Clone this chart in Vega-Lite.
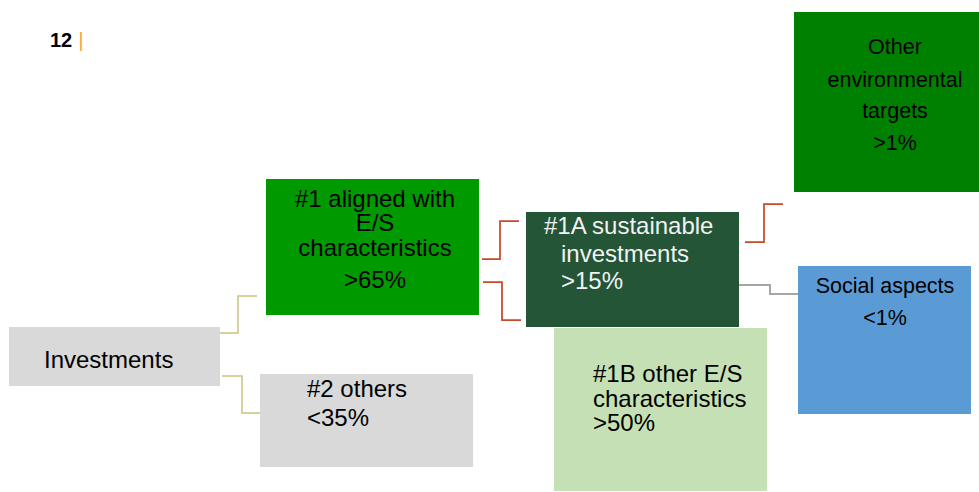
{
  "$schema": "https://vega.github.io/schema/vega-lite/v6.json",
  "width": 979,
  "height": 492,
  "autosize": {"type": "fit", "contains": "padding"},
  "padding": 0,
  "background": "white",
  "config": {"view": {"stroke": null}},
  "datasets": {
    "boxes": [
      {"box": "Investments", "x0": 9, "x1": 220, "y0": 327, "y1": 386},
      {"box": "#1", "x0": 266, "x1": 479, "y0": 179, "y1": 315},
      {"box": "#2", "x0": 260, "x1": 473, "y0": 374, "y1": 467},
      {"box": "#1B", "x0": 554, "x1": 767, "y0": 328, "y1": 491},
      {"box": "#1A", "x0": 526, "x1": 739, "y0": 212, "y1": 327},
      {"box": "Other", "x0": 794, "x1": 979, "y0": 12, "y1": 192},
      {"box": "Social", "x0": 798, "x1": 971, "y0": 266, "y1": 414}
    ],
    "links": [
      {"id": "c1", "kind": "olive", "i": 0, "x": 220, "y": 333},
      {"id": "c1", "kind": "olive", "i": 1, "x": 238, "y": 333},
      {"id": "c1", "kind": "olive", "i": 2, "x": 238, "y": 296},
      {"id": "c1", "kind": "olive", "i": 3, "x": 257, "y": 296},
      {"id": "c2", "kind": "olive", "i": 0, "x": 222, "y": 376},
      {"id": "c2", "kind": "olive", "i": 1, "x": 242, "y": 376},
      {"id": "c2", "kind": "olive", "i": 2, "x": 242, "y": 413},
      {"id": "c2", "kind": "olive", "i": 3, "x": 260, "y": 413},
      {"id": "c3", "kind": "red", "i": 0, "x": 482, "y": 259},
      {"id": "c3", "kind": "red", "i": 1, "x": 500, "y": 259},
      {"id": "c3", "kind": "red", "i": 2, "x": 500, "y": 221},
      {"id": "c3", "kind": "red", "i": 3, "x": 519, "y": 221},
      {"id": "c4", "kind": "red", "i": 0, "x": 483, "y": 282},
      {"id": "c4", "kind": "red", "i": 1, "x": 502, "y": 282},
      {"id": "c4", "kind": "red", "i": 2, "x": 502, "y": 320},
      {"id": "c4", "kind": "red", "i": 3, "x": 521, "y": 320},
      {"id": "c5", "kind": "red", "i": 0, "x": 745, "y": 242},
      {"id": "c5", "kind": "red", "i": 1, "x": 764, "y": 242},
      {"id": "c5", "kind": "red", "i": 2, "x": 764, "y": 204},
      {"id": "c5", "kind": "red", "i": 3, "x": 783, "y": 204},
      {"id": "c6", "kind": "gray", "i": 0, "x": 739, "y": 285},
      {"id": "c6", "kind": "gray", "i": 1, "x": 770, "y": 285},
      {"id": "c6", "kind": "gray", "i": 2, "x": 770, "y": 294},
      {"id": "c6", "kind": "gray", "i": 3, "x": 798, "y": 294}
    ],
    "labels": [
      {"box": "Investments", "t": "Investments", "x": 44, "y": 368},
      {"box": "#2", "t": "#2 others", "x": 307, "y": 397},
      {"box": "#2", "t": "<35%", "x": 307, "y": 426},
      {"box": "#1A", "t": "#1A sustainable", "x": 544, "y": 234},
      {"box": "#1A", "t": "investments", "x": 561, "y": 262},
      {"box": "#1A", "t": ">15%", "x": 561, "y": 289},
      {"box": "#1B", "t": "#1B other E/S", "x": 593, "y": 382},
      {"box": "#1B", "t": "characteristics", "x": 593, "y": 407},
      {"box": "#1B", "t": ">50%", "x": 593, "y": 431},
      {"box": "#1", "t": "#1 aligned with", "x": 375, "y": 207},
      {"box": "#1", "t": "E/S", "x": 375, "y": 231},
      {"box": "#1", "t": "characteristics", "x": 375, "y": 256},
      {"box": "#1", "t": ">65%", "x": 375, "y": 288},
      {"box": "Other", "t": "Other", "x": 895, "y": 54},
      {"box": "Other", "t": "environmental", "x": 895, "y": 87},
      {"box": "Other", "t": "targets", "x": 895, "y": 118},
      {"box": "Other", "t": ">1%", "x": 895, "y": 150},
      {"box": "Social", "t": "Social aspects", "x": 885, "y": 293},
      {"box": "Social", "t": "<1%", "x": 885, "y": 325}
    ],
    "header": [
      {"t": "12", "x": 50, "y": 47},
      {"t": "|", "x": 81, "y": 47}
    ]
  },
  "encoding": {
    "x": {"field": "x", "type": "quantitative", "scale": {"domain": [0, 979], "nice": false, "zero": false}, "axis": null},
    "y": {"field": "y", "type": "quantitative", "scale": {"domain": [0, 492], "nice": false, "zero": false, "reverse": true}, "axis": null}
  },
  "layer": [
    {
      "data": {"name": "boxes"},
      "mark": {"type": "rect"},
      "encoding": {
        "x": {"field": "x0", "type": "quantitative", "scale": {"domain": [0, 979], "nice": false, "zero": false}, "axis": null},
        "x2": {"field": "x1"},
        "y": {"field": "y0", "type": "quantitative", "scale": {"domain": [0, 492], "nice": false, "zero": false, "reverse": true}, "axis": null},
        "y2": {"field": "y1"},
        "fill": {"field": "box", "type": "nominal", "legend": null,
          "scale": {"domain": ["Investments", "#1", "#2", "#1A", "#1B", "Other", "Social"],
                    "range": ["#d9d9d9", "#009900", "#d9d9d9", "#245537", "#c5e0b4", "#008000", "#5b9bd5"]}}
      }
    },
    {
      "data": {"name": "links"},
      "mark": {"type": "line", "interpolate": "linear"},
      "encoding": {
        "detail": {"field": "id", "type": "nominal"},
        "order": {"field": "i", "type": "quantitative"},
        "stroke": {"field": "kind", "type": "nominal", "legend": null,
          "scale": {"domain": ["olive", "red", "gray"], "range": ["#c9c27e", "#c8482b", "#a6a6a6"]}},
        "strokeWidth": {"field": "kind", "type": "nominal", "legend": null,
          "scale": {"domain": ["olive", "red", "gray"], "range": [1.5, 2, 1.5]}}
      }
    },
    {
      "data": {"name": "labels"},
      "transform": [{"filter": {"field": "box", "oneOf": ["Investments", "#2", "#1A", "#1B"]}}],
      "mark": {"type": "text", "align": "left", "baseline": "alphabetic", "font": "Liberation Sans", "fontSize": 24},
      "encoding": {
        "text": {"field": "t"},
        "color": {"field": "box", "type": "nominal", "legend": null,
          "scale": {"domain": ["Investments", "#1", "#2", "#1A", "#1B", "Other", "Social"],
                    "range": ["#000000", "#000000", "#000000", "#f2f2f2", "#000000", "#000000", "#000000"]}}
      }
    },
    {
      "data": {"name": "labels"},
      "transform": [{"filter": {"field": "box", "oneOf": ["#1"]}}],
      "mark": {"type": "text", "align": "center", "baseline": "alphabetic", "font": "Liberation Sans", "fontSize": 24, "color": "#000000"},
      "encoding": {"text": {"field": "t"}}
    },
    {
      "data": {"name": "labels"},
      "transform": [{"filter": {"field": "box", "oneOf": ["Other", "Social"]}}],
      "mark": {"type": "text", "align": "center", "baseline": "alphabetic", "font": "Liberation Sans", "fontSize": 21.5, "color": "#000000"},
      "encoding": {"text": {"field": "t"}}
    },
    {
      "data": {"name": "header"},
      "transform": [{"filter": {"field": "t", "equal": "12"}}],
      "mark": {"type": "text", "align": "left", "baseline": "alphabetic", "font": "Liberation Sans", "fontSize": 20, "fontWeight": "bold", "color": "#000000"},
      "encoding": {"text": {"field": "t"}}
    },
    {
      "data": {"name": "header"},
      "transform": [{"filter": {"field": "t", "equal": "|"}}],
      "mark": {"type": "text", "align": "center", "baseline": "alphabetic", "font": "Liberation Sans", "fontSize": 21, "color": "#f2a93b"},
      "encoding": {"text": {"field": "t"}}
    }
  ]
}
